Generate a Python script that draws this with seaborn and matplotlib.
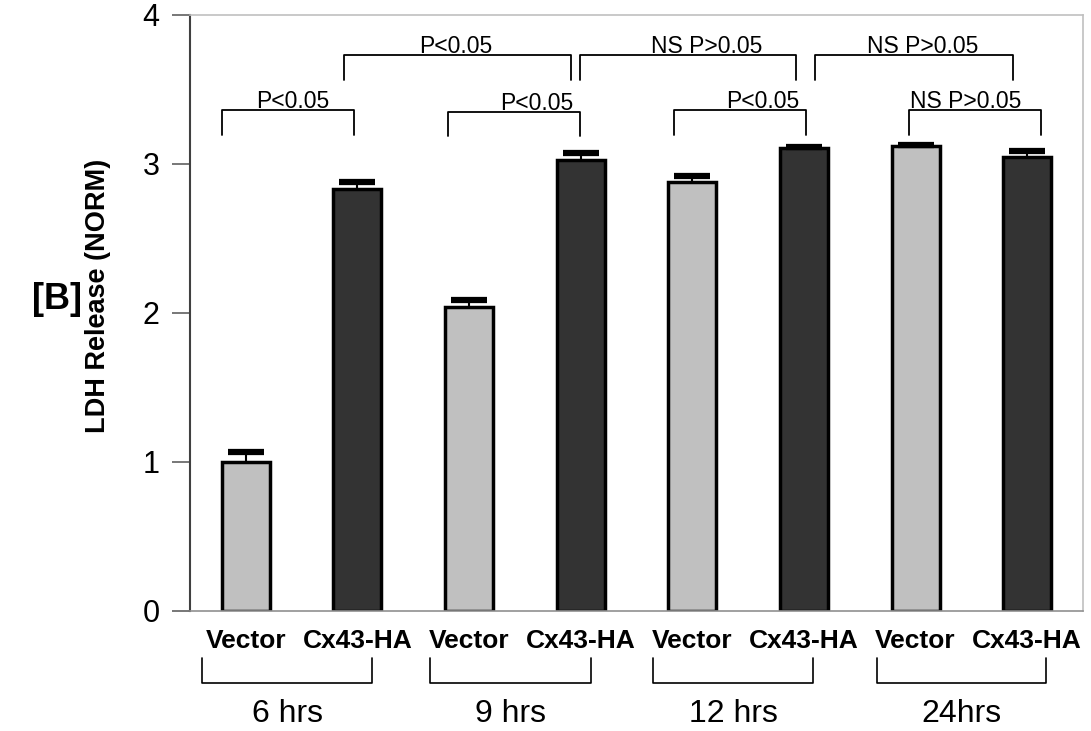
import numpy as np
import pandas as pd
import matplotlib.pyplot as plt
import seaborn as sns

# bar data
times = ['6 hrs', '9 hrs', '12 hrs', '24hrs']
constructs = ['Vector', 'Cx43-HA']
ldh = [1.00, 2.83, 2.04, 3.03, 2.88, 3.11, 3.12, 3.05]
ldh_err = [0.065, 0.05, 0.045, 0.045, 0.04, 0.005, 0.005, 0.035]
y_ticks = [0, 1, 2, 3, 4]

# significance brackets: (x_left, x_right, y_top, label, label_x)
sig_brackets = [
    (-0.21, 0.97, 3.36, 'P<0.05', 0.42),
    (1.81, 2.99, 3.35, 'P<0.05', 2.61),
    (3.84, 5.02, 3.36, 'P<0.05', 4.63),
    (5.94, 7.12, 3.36, 'NS P>0.05', 6.45),
    (0.88, 2.91, 3.73, 'P<0.05', 1.88),
    (2.99, 4.93, 3.73, 'NS P>0.05', 4.13),
    (5.10, 6.87, 3.73, 'NS P>0.05', 6.06),
]
# time group brackets under the axis: (x_left, x_right)
group_brackets = [(-0.39, 1.13), (1.65, 3.09), (3.65, 5.08), (5.65, 7.17)]

sns.set_style('white')
plt.rcParams['font.family'] = ['Liberation Sans', 'DejaVu Sans']
plt.rcParams['text.color'] = 'black'
plt.rcParams['axes.labelcolor'] = 'black'
plt.rcParams['xtick.color'] = 'black'
plt.rcParams['ytick.color'] = 'black'

df = pd.DataFrame({
    'bar': [str(i) for i in range(len(ldh))],
    'construct': constructs * len(times),
    'ldh': ldh,
})

fig = plt.figure(figsize=(10.91, 7.31), dpi=100)
ax = fig.add_axes([0.1742, 0.1642, 0.9927 - 0.1742, 0.9795 - 0.1642])

sns.barplot(data=df, x='bar', y='ldh', hue='construct', dodge=False,
            palette={'Vector': '#c0c0c0', 'Cx43-HA': '#333333'},
            edgecolor='black', linewidth=2.5, width=0.43, errorbar=None,
            legend=False, ax=ax)

xpos = np.arange(len(ldh))
vals = np.array(ldh)
errs = np.array(ldh_err)
ax.vlines(xpos, vals, vals + errs, color='black', linewidth=1.5, zorder=3)
ax.plot(xpos, vals + errs, ls='none', marker='_', ms=26, mew=4.5,
        color='black', zorder=4)

ax.set_xlim(-0.5, 7.5)
ax.set_ylim(0, 4)
ax.set_yticks(y_ticks)
ax.set_yticklabels([str(t) for t in y_ticks], fontsize=22)
ax.set_xticks(xpos)
ax.set_xticklabels(constructs * len(times), fontsize=19, fontweight='bold')
ax.tick_params(axis='x', length=0, pad=13)
ax.tick_params(axis='y', left=True, length=13, width=1.2, color='#606060',
               labelcolor='black', pad=9)
ax.set_xlabel('')
ax.set_ylabel('LDH Release (NORM)', fontsize=19.5, fontweight='bold')
ax.yaxis.set_label_coords(-0.088, 0.528)

ax.spines['left'].set_color('#404040')
ax.spines['left'].set_linewidth(1.5)
ax.spines['bottom'].set_color('#909090')
ax.spines['bottom'].set_linewidth(1.2)
for s in ['top', 'right']:
    ax.spines[s].set_color('#c0c0c0')
    ax.spines[s].set_linewidth(1.2)

leg = 0.165
for x0, x1, y, label, tx in sig_brackets:
    ax.plot([x0, x0, x1, x1], [y - leg, y, y, y - leg], color='black',
            linewidth=1.3, clip_on=False)
    ax.text(tx, y + 0.015, label, ha='center', va='baseline', fontsize=16.5)

for (x0, x1), name in zip(group_brackets, times):
    ax.plot([x0, x0, x1, x1], [-0.315, -0.483, -0.483, -0.315], color='black',
            linewidth=1.2, clip_on=False)
    ax.text((x0 + x1) / 2, -0.69, name, ha='center', va='center', fontsize=23)

fig.text(0.052, 0.59, '[B]', ha='center', va='center', fontsize=26,
         fontweight='bold')

fig.savefig('out.png', dpi=100)
